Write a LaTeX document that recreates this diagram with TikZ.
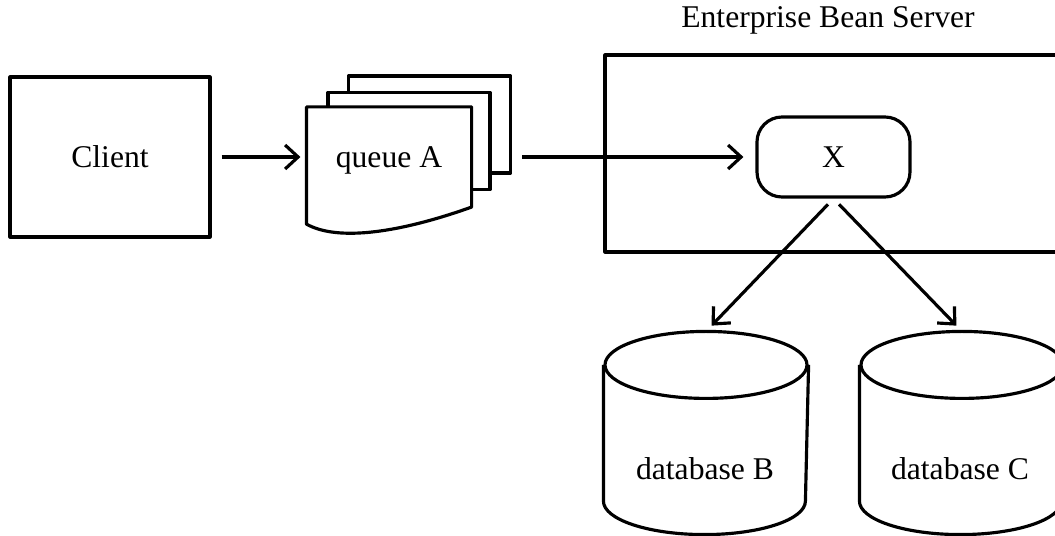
\documentclass[tikz,border=0pt]{standalone}
\usepackage{fontspec}
\setmainfont{Liberation Serif}
\usetikzlibrary{calc,positioning,arrows.meta}

\begin{document}
\begin{tikzpicture}[
                line width=1.8pt,
                line join=round,
                every node/.append style={font=\fontsize{18pt}{22pt}\selectfont},
                arr/.style={-{Straight Barb[length=2.6mm,width=4.8mm]}},
                pg/.style={draw,fill=white,minimum width=3.24cm,minimum height=1.94cm},
                db/.style={minimum width=4.04cm,minimum height=4cm}
            ]
                \useasboundingbox (0,0) rectangle (21.1,-10.72);
                \node[draw,minimum width=4cm,minimum height=3.2cm] (client) at (2.2,-3.14) {Client};
                \node[minimum width=3.24cm,minimum height=1.94cm] (qA) at (7.78,-3.14) {};
                \node[pg] (qA3) at ($(qA)+(0.81,0.65)$) {};
                \node[pg] (qA2) at ($(qA)+(0.4,0.32)$)  {};
                \filldraw[fill=white] (qA.north west) -- (qA.north east) -- (qA.south east)
                    .. controls ($(qA.south east)+(-1.4,-0.5)$) and ($(qA.south west)+(0.64,-0.7)$) .. ($(qA.south west)+(0,-0.34)$) -- cycle;
                \node[text depth=0pt] (qAtxt) at (qA) {queue A};
                \node[draw,minimum width=9.4cm,minimum height=3.94cm] (ejb) at (16.8,-3.07) {};
                \node (ejbLabel) at (16.56,-0.4) {Enterprise Bean Server};
                \node[draw,rounded corners=0.5cm,minimum width=3.06cm,minimum height=1.6cm] (X) at (16.67,-3.14) {X};
                \node[db] (dbB) at (14.12,-8.66) {};
                \node[db] (dbC) at (19.24,-8.66) {};
                % cylinder outlines
                \foreach \d in {dbB,dbC}{
                    \draw ($(\d.north)+(0,-0.67)$) ellipse [x radius=2.02cm,y radius=0.67cm];
                    \draw ($(\d.north west)+(0,-0.67)$) -- ($(\d.south west)+(0,0.67)$)
                        arc [start angle=180,end angle=360,x radius=2.02cm,y radius=0.67cm] -- ($(\d.north east)+(0,-0.67)$);
                }
                \node[text depth=0pt] (dbBtxt) at (14.1,-9.38) {database B};
                \node[text depth=0pt] (dbCtxt) at (19.2,-9.38) {database C};
                \draw[arr,shorten <=0.2cm,shorten >=0.12cm] (client) -- (qA);
                \draw[arr,shorten <=0.2cm,shorten >=0.24cm] (qA3.east |- qA.east) -- (X);
                \draw[arr,shorten <=0.16cm,shorten >=0.16cm] (X.south) -- (dbB.north);
                \draw[arr,shorten <=0.16cm,shorten >=0.16cm] (X.south) -- (dbC.north);
            \end{tikzpicture}
\end{document}
